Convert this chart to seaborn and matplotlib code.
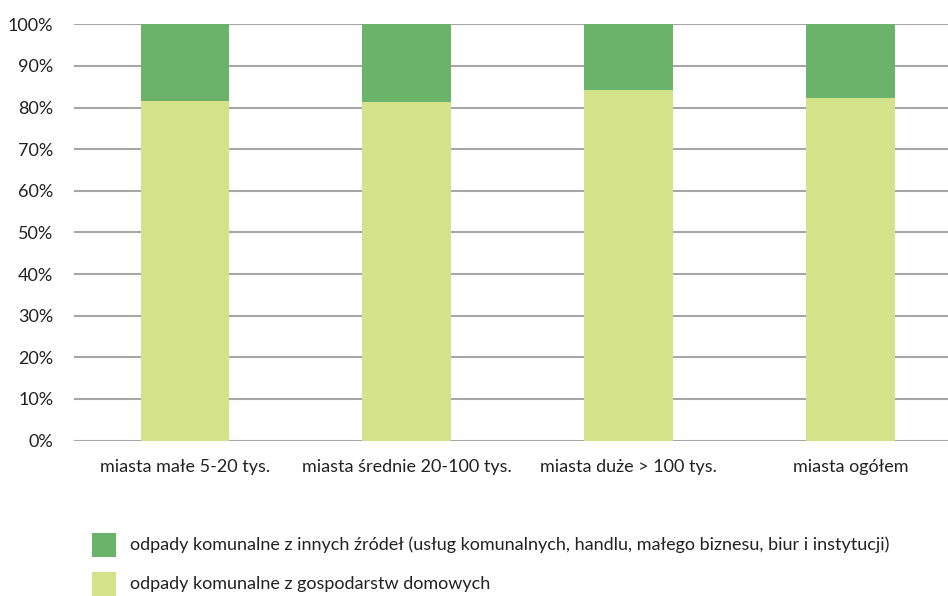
import matplotlib
matplotlib.use("Agg")
import matplotlib.pyplot as plt
from matplotlib.patches import Rectangle
import seaborn as sns
import pandas as pd

categories = ["miasta małe 5-20 tys.", "miasta średnie 20-100 tys.",
              "miasta duże > 100 tys.", "miasta ogółem"]
household = [81.6, 81.3, 84.2, 82.4]
other_sources = [18.4, 18.7, 15.8, 17.6]
y_ticks = [0, 10, 20, 30, 40, 50, 60, 70, 80, 90, 100]
y_tick_labels = [f"{v}%" for v in y_ticks]
legend_labels = [
    "odpady komunalne z innych źródeł (usług komunalnych, handlu, małego biznesu, biur i instytucji)",
    "odpady komunalne z gospodarstw domowych",
]

color_other = "#6BB36B"
color_house = "#D4E38A"
grid_color = "#A6A6A6"
text_color = "#222222"

sns.set_theme(style="white")
plt.rcParams["font.family"] = ["Lato", "DejaVu Sans"]

df = pd.DataFrame({"category": categories, "household": household,
                   "other": other_sources})

W, H = 948, 596
fig = plt.figure(figsize=(W / 100, H / 100), dpi=100)
ax = fig.add_axes([74 / W, 1 - 440.5 / H, 1 - 74 / W, (440.5 - 24.3) / H])

for y in y_ticks:
    ax.axhline(y, color=grid_color, lw=1.5, zorder=0)

sns.barplot(data=df, x="category", y="household", color=color_house,
            width=0.4, saturation=1, linewidth=0, ax=ax, zorder=2)
sns.barplot(data=df, x="category", y="other", bottom=df["household"],
            color=color_other, width=0.4, saturation=1, linewidth=0,
            ax=ax, zorder=2)

ax.set_xlim(-0.5, 3.44)
ax.set_ylim(0, 100)
ax.set_yticks(y_ticks)
ax.set_yticklabels(y_tick_labels, fontsize=13, color=text_color)
ax.tick_params(axis="y", length=0, pad=15)
ax.tick_params(axis="x", length=0, pad=13, labelsize=13, labelcolor=text_color)
ax.set_xlabel("")
ax.set_ylabel("")
for s in ax.spines.values():
    s.set_visible(False)

# legend: colour squares with labels, placed in pixel coordinates
legend_rows = [(533, color_other, legend_labels[0]),
               (572, color_house, legend_labels[1])]
for top, col, label in legend_rows:
    fig.add_artist(Rectangle((92 / W, 1 - (top + 24) / H), 24 / W, 24 / H,
                             transform=fig.transFigure, facecolor=col,
                             edgecolor="none"))
    fig.text(130 / W, 1 - (top + 12) / H, label, fontsize=13,
             color=text_color, va="center", ha="left")

fig.savefig("out.png", dpi=100)
